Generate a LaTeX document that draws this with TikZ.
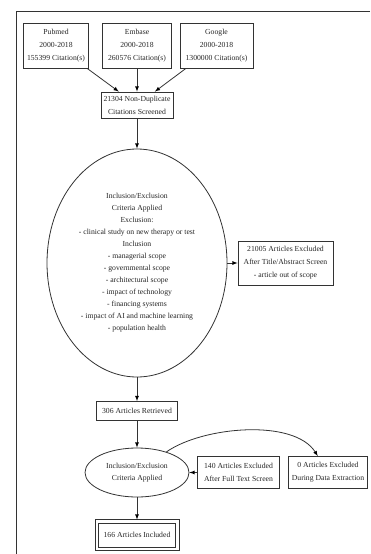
\documentclass[tikz,border=0pt]{standalone}
\usepackage{fontspec}
\setmainfont{Liberation Serif}
\usetikzlibrary{positioning,shapes.geometric}

\begin{document}
\begin{tikzpicture}[x=1pt, y=1pt, node distance=60pt, on grid, auto, >=latex,
	every node/.style={text=black!85},
	box/.style={draw=black!80, line width=0.8pt, rectangle, align=center, inner sep=2pt, font=\fontsize{7.7}{13}\selectfont},
	crit/.style={draw=black!80, line width=0.8pt, ellipse, align=center, inner sep=0pt, font=\fontsize{7.7}{12}\selectfont}]
	\useasboundingbox (0,0) rectangle (370,-554);
	\draw[black!80, line width=0.9pt] (370,-11) -| (16,-554);

	\node[box, minimum width=69pt, minimum height=45pt] (2) at (137,-45.5) {Embase\\2000-2018\\260576 Citation(s)};
	\node[box, minimum width=65pt, minimum height=45pt] (1) [left=81pt of 2] {Pubmed\\2000-2018\\155399 Citation(s)};
	\node[box, minimum width=73pt, minimum height=45pt] (3) [right=79.5pt of 2] {Google\\2000-2018\\1300000 Citation(s)};
	\node[box, minimum width=72pt, minimum height=26pt] (4) [below=59.5pt of 2] {21304 Non-Duplicate\\Citations Screened};
	\node[crit, minimum width=180pt, minimum height=228pt] (5) [below=158pt of 4] {Inclusion/Exclusion\\Criteria Applied\\Exclusion:\\- clinical study on new therapy or test\\Inclusion\\- managerial scope\\- governmental scope\\- architectural scope\\- impact of technology\\- financing systems\\- impact of AI and machine learning\\- population health};
	\node[box, minimum width=95pt, minimum height=44pt] (6) [right=148.5pt of 5] {21005 Articles Excluded\\After Title/Abstract Screen\\- article out of scope};
	\node[box, minimum width=81pt, minimum height=19pt] (7) [below=148pt of 5] {306 Articles Retrieved};
	\node[crit, minimum width=104pt, minimum height=49pt] (8) [below=61.5pt of 7] {Inclusion/Exclusion\\Criteria Applied};
	\node[box, minimum width=82pt, minimum height=32pt] (9) [right=101.5pt of 8] {140 Articles Excluded\\After Full Text Screen};
	\node[box, minimum width=79pt, minimum height=32pt] (10) [right=89.5pt of 9] {0 Articles Excluded\\During Data Extraction};
	\node[box, minimum width=77pt, minimum height=24pt] (11) [below=62.5pt of 8] {166 Articles Included};
	% second periphery
	\draw[black!80, line width=0.8pt] ([shift={(-3pt,3pt)}]11.north west) rectangle ([shift={(3pt,-3pt)}]11.south east);

	\path[->, draw=black!80, line width=0.8pt]
		(1) edge (4)
		(2) edge (4)
		(3) edge (4)
		(4) edge (5)
		(5) edge (6)
		(5) edge (7)
		(7) edge (8)
		(9) edge (8)
		(8) edge [out=35, in=122, looseness=0.75] (10)
		(8) edge ([yshift=3pt]11.north);
\end{tikzpicture}
\end{document}
